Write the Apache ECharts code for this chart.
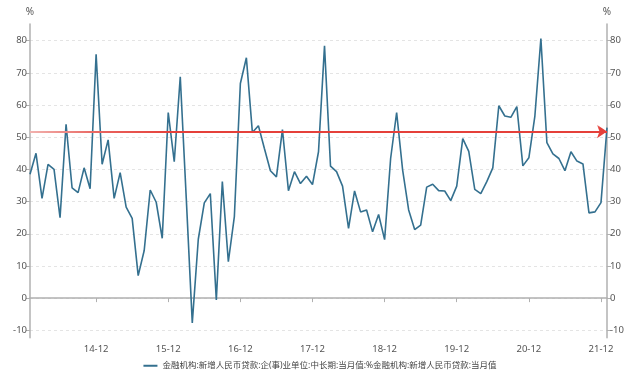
<!DOCTYPE html>
<html>
<head>
<meta charset="utf-8">
<script src="https://cdn.jsdelivr.net/npm/echarts@6/dist/echarts.min.js"></script>
<style>
html,body{margin:0;padding:0;background:#fff;}
#chart{width:640px;height:379px;}
</style>
</head>
<body>
<div id="chart"></div>
<script>
// months 2014-01 .. 2022-01
const startYear = 2014;
const monthCount = 97;
const categories = [];
for (let i = 0; i < monthCount; i++) {
  const y = startYear + Math.floor(i / 12);
  const m = (i % 12) + 1;
  categories.push(String(y).slice(2) + '-' + (m < 10 ? '0' + m : '' + m));
}
const seriesName = '金融机构:新增人民币贷款:企(事)业单位:中长期:当月值:%金融机构:新增人民币贷款:当月值';
const shareValues = [
  38.5, 45, 31, 41.6, 40, 25, 54, 34.3, 32.8, 40.5, 34, 75.8,
  41.6, 49.2, 31, 39, 28.3, 24.8, 7, 14.8, 33.6, 29.8, 18.6, 57.7,
  42.4, 68.8, 31, -7.7, 18.3, 29.6, 32.5, -0.6, 36.2, 11.3, 25.3, 66.7,
  74.7, 51.5, 53.6, 46.5, 39.6, 37.7, 52.4, 33.4, 39.3, 35.6, 37.9, 35.3,
  45.5, 78.4, 41, 39.3, 34.8, 21.7, 33.3, 26.8, 27.4, 20.6, 26, 18.2,
  43.4, 57.7, 39.8, 27.4, 21.3, 22.7, 34.5, 35.4, 33.4, 33.3, 30.3, 34.8,
  49.6, 45.6, 33.8, 32.5, 36.2, 40.5, 59.8, 56.6, 56.2, 59.5, 41.1, 43.6,
  56.6, 80.7, 48.3, 44.8, 43.4, 39.6, 45.5, 42.6, 41.7, 26.5, 26.8, 29.7,
  53
];
const yTicks = [-10, 0, 10, 20, 30, 40, 50, 60, 70, 80];
const arrowLevel = 51.8;

const font = "'Noto Sans', 'Noto Sans CJK SC', sans-serif";
function yAxisCfg(pos) {
  return {
    type: 'value', position: pos, min: -12.3, max: 85.2,
    name: '%', nameLocation: 'end', nameGap: 7,
    nameTextStyle: { color: '#555', fontSize: 10, fontFamily: font, align: 'center' },
    axisLine: { show: true, lineStyle: { color: '#b0b0b0', width: 1.5 } },
    axisTick: { show: true, length: 4, customValues: yTicks, lineStyle: { color: '#b0b0b0' } },
    axisLabel: { customValues: yTicks, color: '#555', fontSize: 9.5, fontFamily: font, margin: 3 },
    splitLine: { show: pos === 'left', lineStyle: { type: [3, 3], color: '#e4e4e4' } }
  };
}
const isYearEnd = (idx, val) => /-12$/.test(categories[idx]);

const chart = echarts.init(document.getElementById('chart'));
chart.setOption({
  animation: false,
  backgroundColor: '#fff',
  grid: { left: 30, right: 33, top: 24, bottom: 41.3, containLabel: false },
  legend: {
    data: [seriesName], bottom: 4, left: 'center',
    icon: 'path://M0,0 L14,0 L14,2 L0,2 Z', itemWidth: 14, itemHeight: 2, itemGap: 4,
    textStyle: { color: '#444', fontSize: 8.5, fontFamily: font }
  },
  xAxis: {
    type: 'category', data: categories, boundaryGap: false,
    axisLine: { show: true, lineStyle: { color: '#b0b0b0', width: 1.5 } },
    axisTick: { show: true, interval: isYearEnd, length: 4, lineStyle: { color: '#b0b0b0' } },
    axisLabel: { interval: isYearEnd, color: '#555', fontSize: 9.5, fontFamily: font, margin: 7 },
    splitLine: { show: false }
  },
  yAxis: [yAxisCfg('left'), yAxisCfg('right')],
  series: [{
    name: seriesName, type: 'line', data: shareValues, showSymbol: false, symbol: 'none',
    clip: false,
    lineStyle: { color: '#34708f', width: 1.6 }, itemStyle: { color: '#34708f' },
    markLine: {
      silent: true, symbol: ['none', 'triangle'], symbolSize: 10, symbolRotate: -90,
      label: { show: false },
      lineStyle: {
        width: 2, type: 'solid',
        color: new echarts.graphic.LinearGradient(0, 0, 1, 0, [
          { offset: 0, color: '#f2b5b2' },
          { offset: 0.12, color: '#e96560' },
          { offset: 0.25, color: '#e5403a' },
          { offset: 1, color: '#e5403a' }
        ])
      },
      itemStyle: { color: '#e5403a' },
      data: [[{ coord: [0, arrowLevel] }, { coord: [monthCount - 1, arrowLevel], symbol: 'arrow', symbolSize: 10, itemStyle: { color: '#e5403a' } }]]
    }
  }]
});
</script>
</body>
</html>
